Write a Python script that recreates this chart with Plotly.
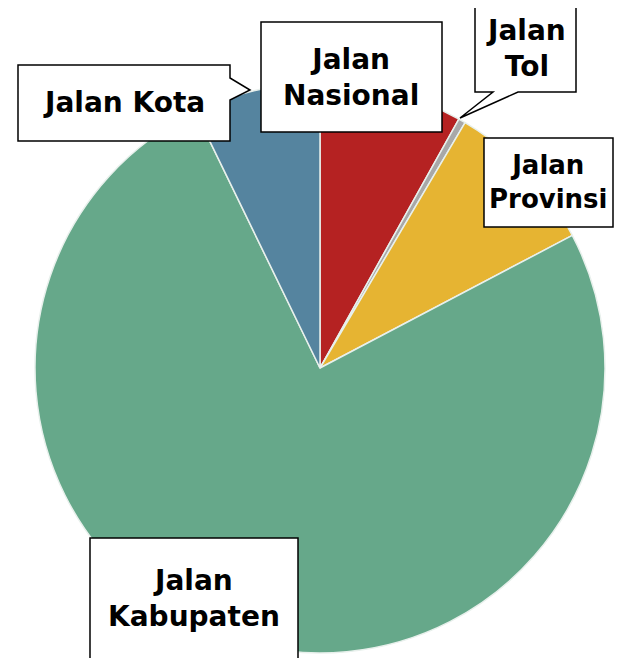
import plotly.graph_objects as go

W, H = 623, 658
OFF = 8  # page body margin offset

labels = ["Jalan Nasional", "Jalan Tol", "Jalan Provinsi", "Jalan Kabupaten", "Jalan Kota"]
values = [8.1, 0.4, 8.8, 75.5, 7.2]
colors = ["#b52222", "#a8a8a8", "#e6b432", "#66a88a", "#55849f"]

box_text = ["Jalan<br>Nasional", "Jalan<br>Tol", "Jalan<br>Provinsi", "Jalan<br>Kabupaten", "Jalan Kota"]
box_font = [28, 28, 26, 28, 28]

def px(x):
    return (x - OFF) / W

def py(y):
    return 1 - (y - OFF) / H

cx, cy, r = 320, 368, 285

fig = go.Figure(go.Pie(
    labels=labels,
    values=values,
    sort=False,
    direction="clockwise",
    rotation=0,
    textinfo="none",
    hoverinfo="label+percent",
    marker=dict(colors=colors, line=dict(color="#e8f0ec", width=1.5)),
    domain=dict(x=[px(cx - r), px(cx + r)], y=[py(cy + r), py(cy - r)]),
    showlegend=False,
))

# callout boxes (page pixel coords)
boxes = [
    dict(b=(261, 22, 442, 132), ptr=None),
    dict(b=(475, 5, 576, 92), ptr=((493, 92), (518, 92), (460, 118))),
    dict(b=(484, 138, 613, 227), ptr=None),
    dict(b=(90, 538, 298, 664), ptr=None),
    dict(b=(18, 65, 230, 141), ptr=((230, 78), (230, 100), (250, 90))),
]

shapes = []
annotations = []
for txt, fs, bx in zip(box_text, box_font, boxes):
    x0, y0, x1, y1 = bx["b"]
    if bx["ptr"] is None:
        pts = [(x0, y0), (x1, y0), (x1, y1), (x0, y1)]
    else:
        (ax, ay), (bx2, by2), (tx, ty) = bx["ptr"]
        if ay == y1 and by2 == y1:
            pts = [(x0, y0), (x1, y0), (x1, y1), (bx2, y1), (tx, ty), (ax, y1), (x0, y1)]
        else:
            pts = [(x0, y0), (x1, y0), (x1, ay), (tx, ty), (x1, by2), (x1, y1), (x0, y1)]
    path = "M " + " L ".join(f"{px(a):.5f},{py(b):.5f}" for a, b in pts) + " Z"
    shapes.append(dict(type="path", xref="paper", yref="paper", path=path,
                       fillcolor="white", line=dict(color="black", width=1.5), layer="above"))
    ty_c = (y0 + min(y1, 658)) / 2
    annotations.append(dict(
        text=txt, xref="paper", yref="paper",
        x=px((x0 + x1) / 2), y=py(ty_c),
        xanchor="center", yanchor="middle", showarrow=False,
        font=dict(family="DejaVu Sans", size=fs, color="black", weight="bold"),
        align="center",
    ))

fig.update_layout(
    width=W, height=H,
    margin=dict(l=0, r=0, t=0, b=0),
    paper_bgcolor="white",
    plot_bgcolor="white",
    shapes=shapes,
    annotations=annotations,
)

fig.write_html("out.html")
